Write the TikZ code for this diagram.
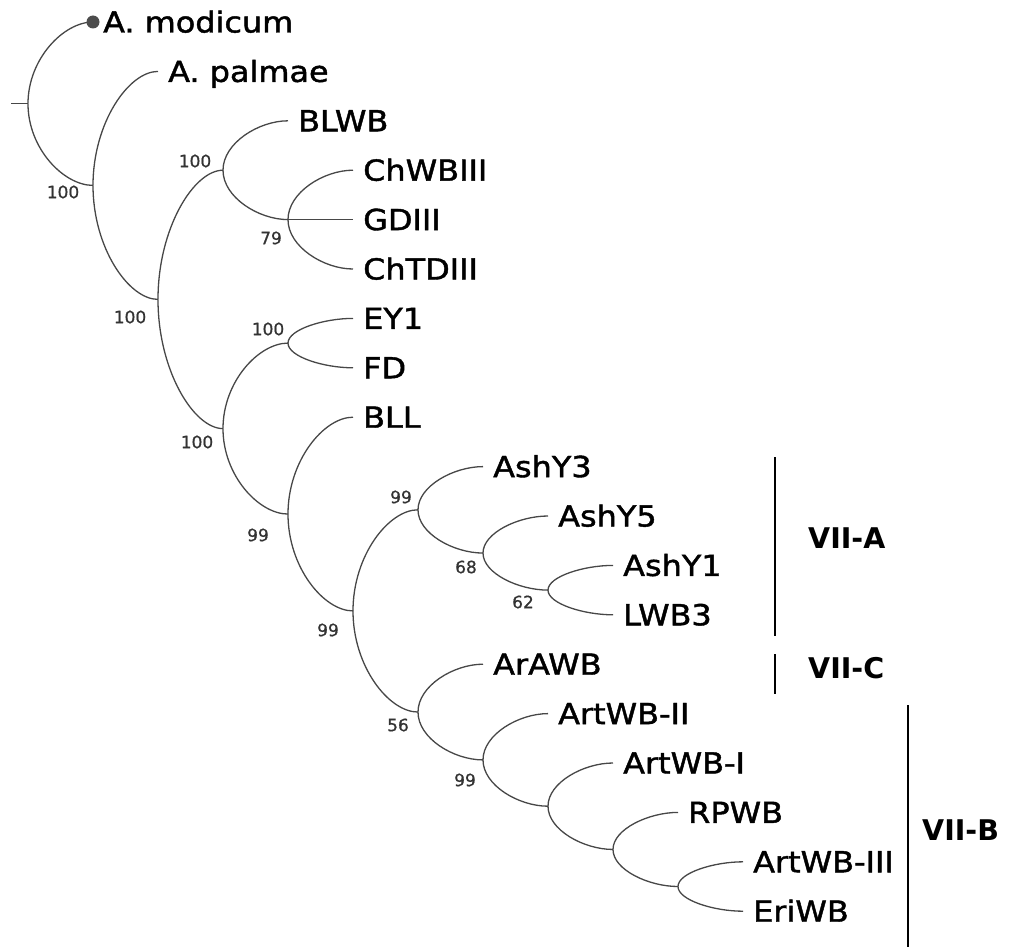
\documentclass[tikz,border=0pt]{standalone}
\usepackage{fontspec}
\setmainfont{DejaVu Sans}
\newfontfamily\taxfont[FakeBold=1.4]{DejaVu Sans}
\newfontfamily\bootfont[FakeBold=0.8]{DejaVu Sans}
\usetikzlibrary{calc}
\newcommand{\brc}[2]{\draw[br] let \p1=(#1), \p2=(#2) in (\p1) .. controls (\x1,{\y1+0.55*(\y2-\y1)}) and ({\x1+0.55*(\x2-\x1)},\y2) .. (\p2);}
\newcommand{\tx}[1]{\scalebox{1.1}[1]{#1}}
\begin{document}
\begin{tikzpicture}[x=1pt,y=-1pt,
  br/.style={draw=black!72, line width=1.3pt},
  taxon/.style={anchor=base west, inner sep=0pt, font=\taxfont\fontsize{29}{30}\selectfont},
  boot/.style={inner sep=0pt, text=black!80, font=\bootfont\fontsize{17}{18}\selectfont},
  clade/.style={anchor=base west, inner sep=0pt, font=\bfseries\fontsize{28.5}{30}\selectfont},
  bar/.style={draw=black, line width=2.6pt}]
\useasboundingbox (0,0) rectangle (1016,947);
% tips
\coordinate (t0) at (93,22);
\coordinate (t1) at (158,71.4);
\coordinate (t2) at (288,120.8);
\coordinate (t3) at (353,170.2);
\coordinate (t4) at (353,219.6);
\coordinate (t5) at (353,269.0);
\coordinate (t6) at (353,318.4);
\coordinate (t7) at (353,367.8);
\coordinate (t8) at (353,417.2);
\coordinate (t9) at (483,466.6);
\coordinate (t10) at (548,516.0);
\coordinate (t11) at (613,565.4);
\coordinate (t12) at (613,614.8);
\coordinate (t13) at (483,664.2);
\coordinate (t14) at (548,713.6);
\coordinate (t15) at (613,763.0);
\coordinate (t16) at (678,812.4);
\coordinate (t17) at (743,861.8);
\coordinate (t18) at (743,911.2);
% internal nodes
\coordinate (R) at (28,103.7);
\coordinate (n1) at (93,185.4);
\coordinate (n2) at (158,299.4);
\coordinate (n3) at (223,170.2);
\coordinate (n4) at (288,219.6);
\coordinate (n5) at (223,428.6);
\coordinate (n6) at (288,343.1);
\coordinate (n7) at (288,514.05);
\coordinate (n8) at (353,610.9);
\coordinate (n9) at (418,509.8);
\coordinate (n10) at (483,553.05);
\coordinate (n11) at (548,590.1);
\coordinate (n12) at (418,712.05);
\coordinate (n13) at (483,759.9);
\coordinate (n14) at (548,806.2);
\coordinate (n15) at (613,849.45);
\coordinate (n16) at (678,886.5);
\coordinate (rt) at (11,103.7);
% root stub
\draw[br] (rt) -- (R);
% branches
\brc{R}{t0} \brc{R}{n1}
\brc{n1}{t1} \brc{n1}{n2}
\brc{n2}{n3} \brc{n2}{n5}
\brc{n3}{t2} \brc{n3}{n4}
\brc{n4}{t3} \draw[br] (n4) -- (t4); \brc{n4}{t5}
\brc{n5}{n6} \brc{n5}{n7}
\brc{n6}{t6} \brc{n6}{t7}
\brc{n7}{t8} \brc{n7}{n8}
\brc{n8}{n9} \brc{n8}{n12}
\brc{n9}{t9} \brc{n9}{n10}
\brc{n10}{t10} \brc{n10}{n11}
\brc{n11}{t11} \brc{n11}{t12}
\brc{n12}{t13} \brc{n12}{n13}
\brc{n13}{t14} \brc{n13}{n14}
\brc{n14}{t15} \brc{n14}{n15}
\brc{n15}{t16} \brc{n15}{n16}
\brc{n16}{t17} \brc{n16}{t18}
% dot
\fill[black!70] (t0) circle (6.5);
% taxa
\node[taxon] (l0) at ([shift={(10,10.5)}]t0) {\tx{A. modicum}};
\node[taxon] (l1) at ([shift={(10,10.5)}]t1) {\tx{A. palmae}};
\node[taxon] (l2) at ([shift={(10,10.5)}]t2) {\tx{BLWB}};
\node[taxon] (l3) at ([shift={(10,10.5)}]t3) {\tx{ChWBIII}};
\node[taxon] (l4) at ([shift={(10,10.5)}]t4) {\tx{GDIII}};
\node[taxon] (l5) at ([shift={(10,10.5)}]t5) {\tx{ChTDIII}};
\node[taxon] (l6) at ([shift={(10,10.5)}]t6) {\tx{EY1}};
\node[taxon] (l7) at ([shift={(10,10.5)}]t7) {\tx{FD}};
\node[taxon] (l8) at ([shift={(10,10.5)}]t8) {\tx{BLL}};
\node[taxon] (l9) at ([shift={(10,10.5)}]t9) {\tx{AshY3}};
\node[taxon] (l10) at ([shift={(10,10.5)}]t10) {\tx{AshY5}};
\node[taxon] (l11) at ([shift={(10,10.5)}]t11) {\tx{AshY1}};
\node[taxon] (l12) at ([shift={(10,10.5)}]t12) {\tx{LWB3}};
\node[taxon] (l13) at ([shift={(10,10.5)}]t13) {\tx{ArAWB}};
\node[taxon] (l14) at ([shift={(10,10.5)}]t14) {\tx{ArtWB-II}};
\node[taxon] (l15) at ([shift={(10,10.5)}]t15) {\tx{ArtWB-I}};
\node[taxon] (l16) at ([shift={(10,10.5)}]t16) {\tx{RPWB}};
\node[taxon] (l17) at ([shift={(10,10.5)}]t17) {\tx{ArtWB-III}};
\node[taxon] (l18) at ([shift={(10,10.5)}]t18) {\tx{EriWB}};
% bootstrap values
\node[boot] (b1) at (63,192) {100};
\node[boot] (b2) at (130,317) {100};
\node[boot] (b3) at (195,161) {100};
\node[boot] (b4) at (271,238) {79};
\node[boot] (b5) at (197,442) {100};
\node[boot] (b6) at (268,329) {100};
\node[boot] (b7) at (258,535) {99};
\node[boot] (b8) at (328,630) {99};
\node[boot] (b9) at (401,497) {99};
\node[boot] (b10) at (466,567) {68};
\node[boot] (b11) at (523,602) {62};
\node[boot] (b12) at (398,725) {56};
\node[boot] (b13) at (465,780) {99};
% clade bars
\coordinate (aT) at (775,457); \coordinate (aB) at (775,636);
\coordinate (cT) at (775,654); \coordinate (cB) at (775,694);
\coordinate (bT) at (908,705); \coordinate (bB) at (908,947);
\draw[bar] (aT) -- (aB);
\draw[bar] (cT) -- (cB);
\draw[bar] (bT) -- (bB);
\node[clade] (cA) at (808,548.4) {VII-A};
\node[clade] (cC) at (808,678.4) {VII-C};
\node[clade] (cBl) at (922,840.4) {VII-B};
\end{tikzpicture}
\end{document}
